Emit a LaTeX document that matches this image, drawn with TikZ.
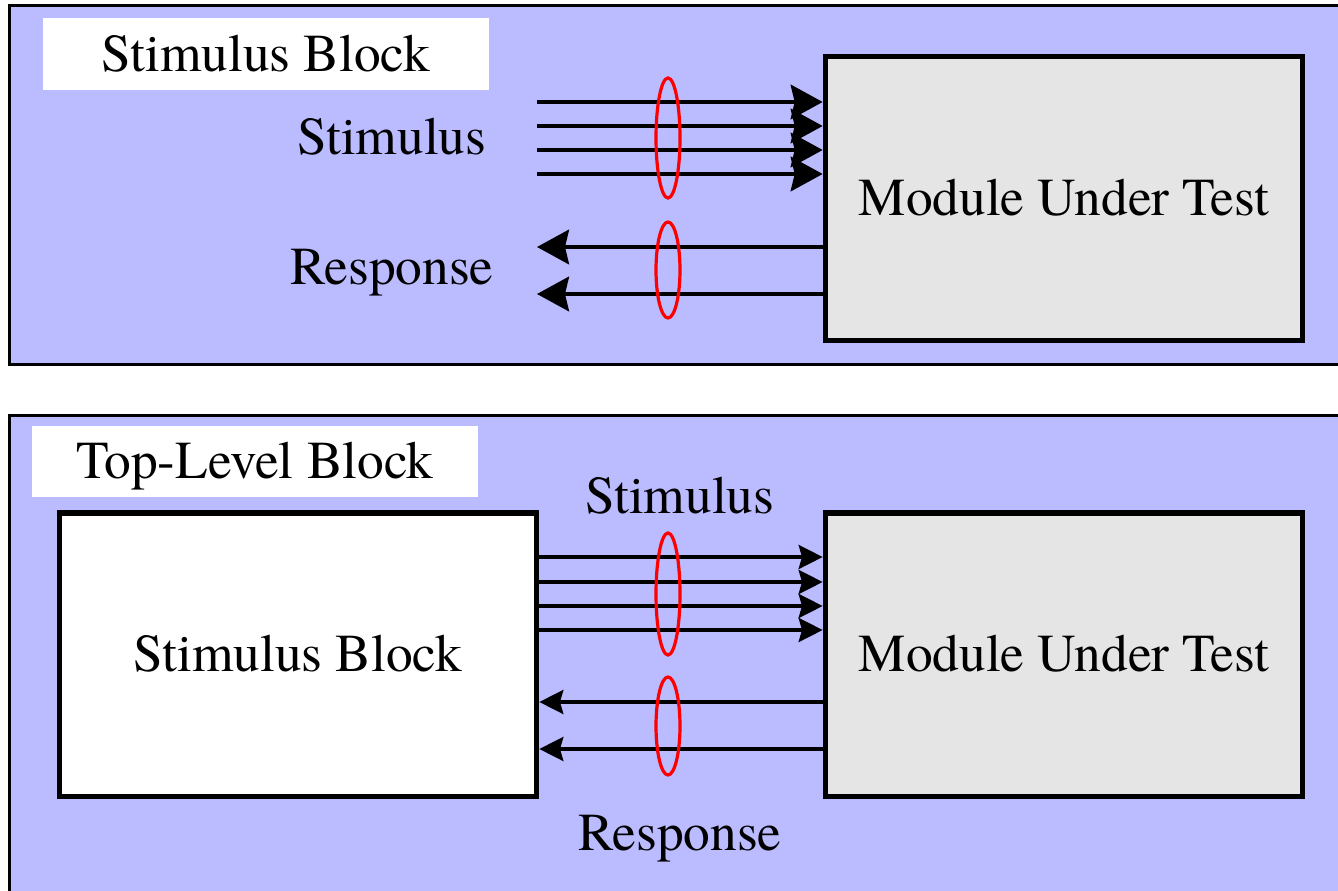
\documentclass[tikz,border=0pt]{standalone}
\usepackage{fontspec}
\newfontfamily\diagfont{texgyretermes-regular.otf}
\usetikzlibrary{arrows.meta}
\definecolor{panelblue}{RGB}{187,187,255}
\definecolor{mutgray}{RGB}{229,229,229}
\definecolor{bundlered}{RGB}{255,0,0}
\begin{document}
\begin{tikzpicture}[x=0.75pt,y=-0.75pt,
  every node/.style={font=\diagfont\fontsize{40}{48}\selectfont, inner sep=0pt},
  panel/.style={fill=panelblue, draw=black, line width=2.25pt},
  titlebox/.style={fill=white, draw=none, minimum width=334.5pt, minimum height=53.5pt,
    text height=25.6pt, text depth=0pt},
  blockbox/.style={draw=black, line width=4pt, minimum width=358pt, minimum height=212.5pt,
    text height=25pt, text depth=0pt},
  mutbox/.style={blockbox, fill=mutgray},
  sbbox/.style={blockbox, fill=white},
  bigarrow/.style={line width=2.5pt, -{Stealth[length=24pt, width=26pt, inset=3pt]}},
  smallarrow/.style={line width=2.5pt, -{Stealth[length=18pt, width=18pt, inset=2.5pt]}},
  bundle/.style={draw=bundlered, line width=2.4pt},
  label/.style={anchor=base}
]
\clip (0,0) rectangle (1338,891);
\fill[white] (0,0) rectangle (1338,891);

% ---------------- top panel ----------------
\draw[panel] (9,6) rectangle (1360,364);
\node[titlebox] (t1) at (266,54) {Stimulus Block};
\node[mutbox] (mut1) at (1064,198.5) {Module Under Test};

\coordinate (s1) at (537,102);
\coordinate (s2) at (537,126);
\coordinate (s3) at (537,150);
\coordinate (s4) at (537,174);
\coordinate (r1) at (537,247);
\coordinate (r2) at (537,294);

\foreach \c in {s1,s2,s3,s4}
  \draw[bigarrow] (\c) -- (mut1.west |- \c);
\foreach \c in {r1,r2}
  \draw[bigarrow] (mut1.west |- \c) -- (\c);

\node[label] (stimtxt1) at (392,155) {Stimulus};
\node[label] (resptxt1) at (392,285) {Response};

\draw[bundle] (668,138) ellipse [x radius=12, y radius=60];
\draw[bundle] (668,270) ellipse [x radius=12, y radius=48];

% ---------------- bottom panel ----------------
\draw[panel] (9,415) rectangle (1360,920);
\node[titlebox] (t2) at (255,461.5) {Top-Level Block};
\node[sbbox] (sb) at (298,654.5) {Stimulus Block};
\node[mutbox] (mut2) at (1064,654.5) {Module Under Test};

\foreach \y in {557,582,606,630}
  \draw[smallarrow] (sb.east |- 0,\y) -- (mut2.west |- 0,\y);
\foreach \y in {702,749}
  \draw[smallarrow] (mut2.west |- 0,\y) -- (sb.east |- 0,\y);

\node[label] (stimtxt2) at (680,513) {Stimulus};
\node[label] (resptxt2) at (680,850) {Response};

\draw[bundle] (668,594) ellipse [x radius=12, y radius=61];
\draw[bundle] (668,726) ellipse [x radius=12, y radius=49];
\end{tikzpicture}
\end{document}
